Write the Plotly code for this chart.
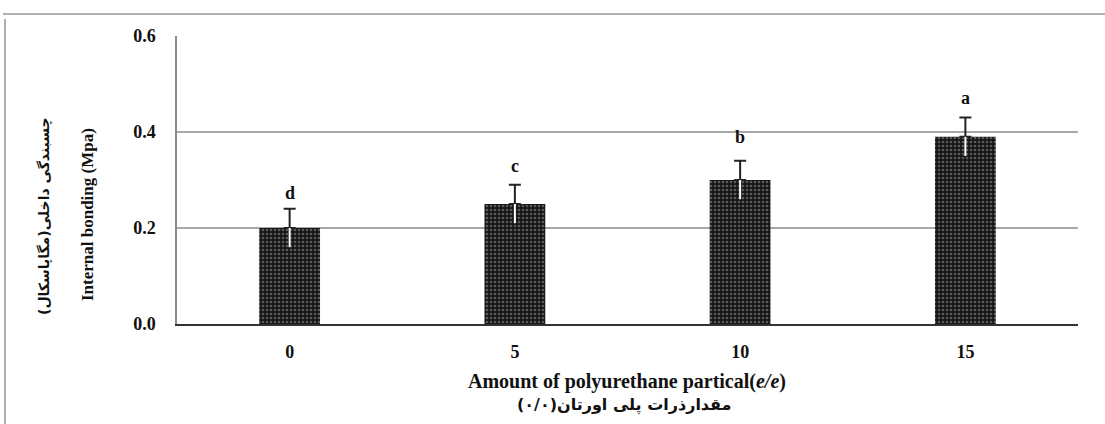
import plotly.graph_objects as go

categories = ["0", "5", "10", "15"]
values = [0.20, 0.25, 0.30, 0.39]
errors = [0.04, 0.04, 0.04, 0.04]
letters = ["d", "c", "b", "a"]
letter_y = [0.273, 0.33, 0.39, 0.47]
y_ticks = [0.0, 0.2, 0.4, 0.6]
y_ticklabels = ["0.0", "0.2", "0.4", "0.6"]

W, H = 1105, 424
L, R, T, B = 177, 27, 36, 100
pw, ph = W - L - R, H - T - B

def px_x(px):
    return (px - L) / pw

def px_y(py):
    return (H - B - py) / ph

serif = "Liberation Serif"

fig = go.Figure()
fig.add_trace(go.Bar(
    x=categories, y=values, width=0.27,
    marker=dict(color="#161616",
                pattern=dict(shape=".", fgcolor="#a0a0a0", bgcolor="#161616", size=4, solidity=0.35),
                line=dict(width=0)),
    error_y=dict(type="data", symmetric=False, array=errors, arrayminus=[0]*4,
                 color="#222222", thickness=2, width=6),
    showlegend=False, hoverinfo="skip",
))
fig.add_trace(go.Scatter(
    x=categories, y=values, mode="markers",
    marker=dict(size=1, color="rgba(0,0,0,0)"),
    error_y=dict(type="data", symmetric=False, array=[0]*4, arrayminus=errors,
                 color="#ffffff", thickness=2, width=0),
    showlegend=False, hoverinfo="skip",
))

for i, (ly, t) in enumerate(zip(letter_y, letters)):
    fig.add_annotation(x=i, y=ly, text="<b>%s</b>" % t, showarrow=False,
                       font=dict(family=serif, size=18, color="#111"), yanchor="middle")

# axis titles
fig.add_annotation(xref="paper", yref="paper", x=px_x(627), y=px_y(381),
                   text="<b>Amount of polyurethane partical(<i>e/e</i>)</b>", showarrow=False,
                   font=dict(family=serif, size=20, color="#111"), yanchor="middle")
fig.add_annotation(xref="paper", yref="paper", x=px_x(624), y=px_y(405),
                   text="<b>مقدارذرات پلی اورتان(٠/٠)</b>", showarrow=False,
                   font=dict(family="DejaVu Sans", size=16, color="#111"), yanchor="middle")
fig.add_annotation(xref="paper", yref="paper", x=px_x(87), y=px_y(215),
                   text="<b>Internal bonding (Mpa)</b>", showarrow=False, textangle=-90,
                   font=dict(family=serif, size=17, color="#111"), xanchor="center", yanchor="middle")
fig.add_annotation(xref="paper", yref="paper", x=px_x(44), y=px_y(216),
                   text="<b>چسبندگی داخلی(مگاپاسکال)</b>", showarrow=False, textangle=-90,
                   font=dict(family="DejaVu Sans", size=14, color="#111"), xanchor="center", yanchor="middle")

# page border lines
fig.add_shape(type="line", xref="paper", yref="paper", x0=px_x(3), x1=px_x(1105), y0=px_y(14), y1=px_y(14),
              line=dict(color="#b0b0b0", width=2))
fig.add_shape(type="line", xref="paper", yref="paper", x0=px_x(5), x1=px_x(5), y0=px_y(19), y1=px_y(424),
              line=dict(color="#b0b0b0", width=2))

fig.update_layout(
    width=W, height=H,
    margin=dict(l=L, r=R, t=T, b=B),
    paper_bgcolor="white", plot_bgcolor="white",
    xaxis=dict(type="category", range=[-0.5, 3.5], showgrid=False, showline=True, linecolor="#333", linewidth=2,
               ticks="", tickfont=dict(family=serif, size=18, color="#111"), ticklabelstandoff=10,
               tickprefix="<b>", ticksuffix="</b>", zeroline=False),
    yaxis=dict(range=[0, 0.6], tickvals=y_ticks, ticktext=["<b>%s</b>" % t for t in y_ticklabels],
               showgrid=True, gridcolor="#a8a8a8", gridwidth=2,
               showline=True, linecolor="#8a8a8a", linewidth=1.5,
               ticks="", ticklen=0, tickfont=dict(family=serif, size=18, color="#111"),
               ticklabelstandoff=16, zeroline=False),
)

fig.write_html("out.html", config={"displayModeBar": False},
               post_script="document.body.style.margin='0';document.body.style.overflow='hidden';")
